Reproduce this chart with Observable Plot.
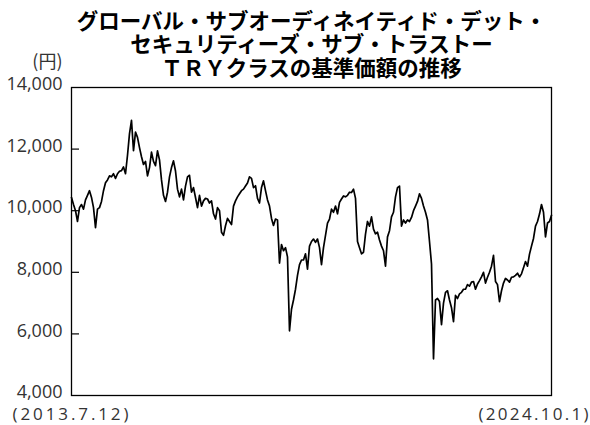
<!DOCTYPE html>
<html>
<head>
<meta charset="utf-8">
<script src="https://cdn.jsdelivr.net/npm/d3@7"></script>
<script src="https://cdn.jsdelivr.net/npm/@observablehq/plot@0.6"></script>
<style>
  html, body { margin: 0; padding: 0; background: #fff; }
  #chart { width: 590px; height: 425px; }
</style>
</head>
<body>
<div id="chart"></div>
<script>
// Title lines
const titleLines = [
  "グローバル・サブオーディネイティド・デット・",
  "セキュリティーズ・サブ・トラストー",
  "ＴＲＹクラスの基準価額の推移"
];
const unitLabel = "(円)";
const startLabel = "(2013.7.12)";
const endLabel = "(2024.10.1)";
const startDate = new Date("2013-07-12");
const endDate = new Date("2024-10-01");
const yTicks = [4000, 6000, 8000, 10000, 12000, 14000];
const yInnerTicks = [6000, 8000, 10000, 12000];

// NAV (基準価額), sampled at equal intervals from 2013-07-12 to 2024-10-01
const navValues = [
  10430, 10200, 10000, 9650, 10100, 10200, 10050, 10350, 10500, 10650,
  10430, 10100, 9450, 10050, 10100, 10300, 10650, 10910, 11000, 11130,
  11100, 11200, 11050, 11200, 11280, 11300, 11420, 11200, 11800, 12500,
  12930, 11950, 12550, 12380, 12050, 11750, 11500, 11600, 11130, 11400,
  11900, 11600, 11460, 11940, 11650, 11000, 10500, 10300, 10600, 11100,
  11400, 11620, 11290, 10700, 10450, 10700, 10350, 10800, 11100, 11150,
  10600, 10750, 10430, 10100, 10500, 10150, 10320, 10400, 10380, 10250,
  10320, 9900, 9730, 10100, 10000, 9300, 9200, 9510, 9750, 9650,
  9550, 10150, 10320, 10450, 10550, 10650, 10700, 10800, 10900, 11100,
  11050, 10750, 10810, 10400, 10250, 10750, 10970, 10650, 10350, 10150,
  9750, 9520, 9730, 9700, 8300, 8900, 8700, 8800, 8500, 6100,
  6800, 7100, 7450, 7900, 8250, 8400, 8400, 8600, 8100, 8850,
  9000, 9080, 8970, 9080, 8800, 8250, 8800, 9200, 9600, 9730,
  10050, 9950, 10150, 9900, 10270, 10380, 10480, 10450, 10500, 10600,
  10590, 10700, 10400, 9000, 8800, 8600, 8650, 9240, 9650, 9500,
  9800, 9400, 9250, 9300, 9050, 8850, 8700, 8200, 9150, 9350,
  9800, 9950, 10450, 10750, 10800, 9500, 9700, 9600, 9700, 9650,
  9780, 10000, 10150, 10300, 10550, 10400, 10150, 9950, 9700, 9000,
  8270, 5190, 7100, 7150, 7050, 6300, 7000, 7350, 7400, 7100,
  6850, 6400, 7250, 7150, 7300, 7350, 7450, 7450, 7600, 7550,
  7680, 7700, 7450, 7620, 7730, 7850, 8000, 7650, 7840, 8000,
  8200, 8550, 7700, 7600, 7050, 7400, 7650, 7800, 7750, 7680,
  7840, 7850, 7900, 7970, 7850, 7950, 8150, 8350, 8200, 8590,
  8850, 9100, 9500, 9650, 9890, 10200, 9950, 9150, 9600, 9650,
  9850
];

const n = navValues.length;
const data = navValues.map((v, i) => ({
  date: new Date(+startDate + i * (endDate - startDate) / (n - 1)),
  nav: v
}));

const numFmt = d3.format(",");
const cjkFont = "'Noto Sans CJK JP', sans-serif";
const numFont = "'Open Sans', 'Noto Sans', sans-serif";

const chart = Plot.plot({
  width: 590,
  height: 425,
  marginLeft: 71,
  marginRight: 39,
  marginTop: 87,
  marginBottom: 30,
  style: { fontFamily: numFont, background: "#fff", color: "#333" },
  x: { type: "utc", domain: [startDate, endDate], axis: null },
  y: { domain: [4000, 14000] },
  marks: [
    Plot.axisY({
      ticks: yTicks, tickSize: 0, tickPadding: 9, dy: -3,
      tickFormat: numFmt, fontSize: 18, fill: "#333", label: null,
      fontFamily: numFont
    }),
    Plot.axisY({
      ticks: yInnerTicks, tickSize: -8, tickFormat: () => "",
      stroke: "#000", strokeWidth: 1.2, label: null
    }),
    Plot.line(data, { x: "date", y: "nav", stroke: "#000", strokeWidth: 1.7, strokeLinejoin: "round" }),
    Plot.frame({ stroke: "#000", strokeWidth: 1.3 }),
    Plot.text([titleLines.join("\n")], {
      frameAnchor: "top", lineAnchor: "bottom", dy: -12,
      fontSize: 21.5, fontWeight: "bold", lineHeight: 1.09,
      fontFamily: cjkFont, fill: "#000"
    }),
    Plot.text([unitLabel], {
      frameAnchor: "top-left", lineAnchor: "bottom", textAnchor: "end",
      dx: -9, dy: -20, fontSize: 18, fill: "#333",
      fontFamily: cjkFont
    }),
    Plot.text([startLabel], {
      frameAnchor: "bottom-left", lineAnchor: "top", textAnchor: "start",
      dx: -59, dy: 12.5, fontSize: 17, fill: "#333", fontFamily: numFont
    }),
    Plot.text([endLabel], {
      frameAnchor: "bottom-right", lineAnchor: "top", textAnchor: "end",
      dx: 37, dy: 12.5, fontSize: 17, fill: "#333", fontFamily: numFont
    })
  ]
});

document.getElementById("chart").appendChild(chart);

// widen the spacing of the two date labels to the reference widths
const labelWidths = new Map([[startLabel, 116], [endLabel, 110]]);
d3.select(chart).selectAll("text")
  .filter(function () { return labelWidths.has(this.textContent); })
  .attr("textLength", function () { return labelWidths.get(this.textContent); })
  .attr("lengthAdjust", "spacing");
</script>
</body>
</html>
